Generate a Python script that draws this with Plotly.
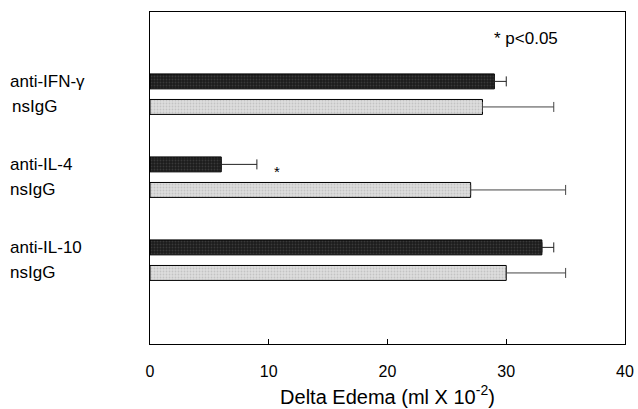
import plotly.graph_objects as go

treat_labels = ["anti-IFN-γ", "anti-IL-4", "anti-IL-10"]
ctrl_label = "nsIgG"
treat_vals = [29, 6, 33]
treat_err = [1, 3, 1]
ctrl_vals = [28, 27, 30]
ctrl_err = [6, 8, 5]
x_ticks = [0, 10, 20, 30, 40]

off = 0.154
pos = [0, 1, 2]
y_treat = [p - off for p in pos]
y_ctrl = [p + off for p in pos]
FONT = "Liberation Sans, Arial, sans-serif"

fig = go.Figure()
fig.add_trace(go.Bar(
    x=treat_vals, y=y_treat, orientation="h", width=0.18,
    marker=dict(color="#1c1c1c", line=dict(color="black", width=1),
                pattern=dict(shape=".", fgcolor="#555555", bgcolor="#1c1c1c", size=3, solidity=0.3)),
    error_x=dict(type="data", array=treat_err, symmetric=False, arrayminus=[0]*3,
                 color="#222222", thickness=1, width=5),
    showlegend=False))
fig.add_trace(go.Bar(
    x=ctrl_vals, y=y_ctrl, orientation="h", width=0.18,
    marker=dict(color="#d2d2d2", line=dict(color="black", width=1),
                pattern=dict(shape=".", fgcolor="#a8a8a8", bgcolor="#dedede", size=3, solidity=0.3)),
    error_x=dict(type="data", array=ctrl_err, symmetric=False, arrayminus=[0]*3,
                 color="#444444", thickness=1, width=5),
    showlegend=False))

ann = []
for i in range(3):
    ann.append(dict(x=-0.300, xref="paper", y=y_treat[i], yref="y", text=treat_labels[i],
                    showarrow=False, xanchor="left", yanchor="middle",
                    font=dict(family=FONT, size=17, color="black")))
    ann.append(dict(x=-0.294 if i == 0 else -0.300, xref="paper", y=y_ctrl[i], yref="y", text=ctrl_label,
                    showarrow=False, xanchor="left", yanchor="middle",
                    font=dict(family=FONT, size=17, color="black")))
ann.append(dict(x=10.7, y=y_treat[1] + 0.09, xref="x", yref="y", text="*", showarrow=False,
                font=dict(family=FONT, size=15, color="black")))
ann.append(dict(x=0.72, xref="paper", y=0.92, yref="paper", text="* p<0.05", showarrow=False,
                xanchor="left", yanchor="middle", font=dict(family=FONT, size=17, color="black")))

fig.update_layout(
    width=638, height=409,
    margin=dict(l=150, r=13, t=12, b=65, autoexpand=False),
    plot_bgcolor="white", paper_bgcolor="white",
    barmode="overlay",
    annotations=ann,
    xaxis=dict(range=[0, 40], tickvals=x_ticks, ticks="inside", ticklen=5, tickcolor="black",
               showline=True, linecolor="black", linewidth=1, mirror=True, showgrid=False,
               zeroline=False, ticklabelstandoff=13, automargin=False,
               tickfont=dict(family=FONT, size=16, color="black"),
               title=dict(text="Delta Edema (ml X 10<sup>-2</sup>)", standoff=10,
                          font=dict(family=FONT, size=20, color="black"))),
    yaxis=dict(range=[3.01, -0.99], showticklabels=False, ticks="", showgrid=False,
               zeroline=False, showline=True, linecolor="black", linewidth=1, mirror=True,
               automargin=False),
)
fig.write_html("out.html", config={"displayModeBar": False},
               post_script="document.body.style.margin='0';document.body.style.overflow='hidden';")
